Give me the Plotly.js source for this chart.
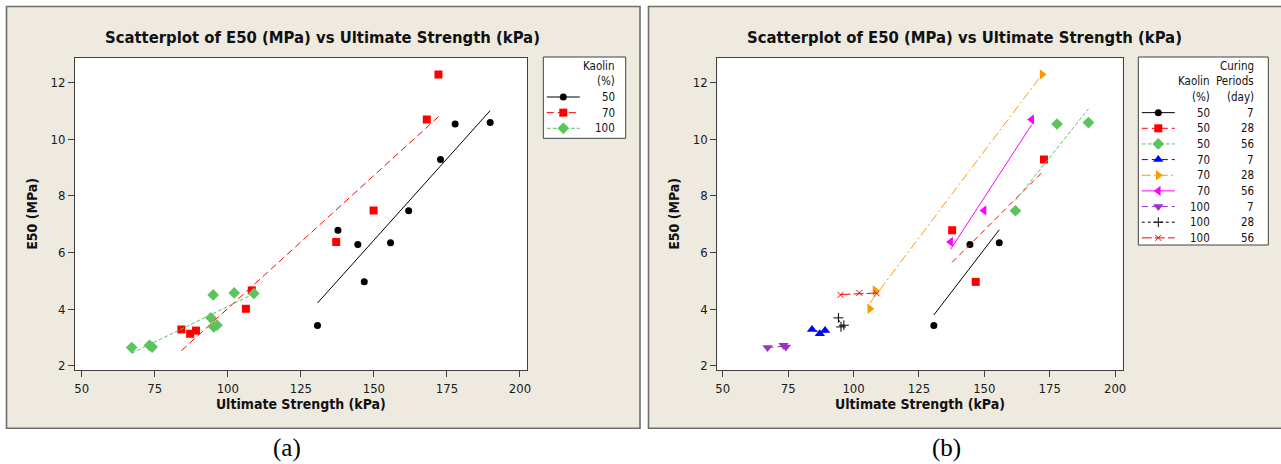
<!DOCTYPE html>
<html><head><meta charset="utf-8">
<script src="https://cdn.plot.ly/plotly-3.0.1.min.js"></script>
<style>html,body{margin:0;padding:0;background:#fff;overflow:hidden}#chart{width:1281px;height:464px}</style>
</head><body><div id="chart"></div>
<script>
// ---------------- DATA ----------------
const kaolinLevels = [50, 70, 100];          // Kaolin (%)
const curingLevels = [7, 28, 56];            // Curing periods (day)
const xTicks = [50, 75, 100, 125, 150, 175, 200];
const yTicks = [2, 4, 6, 8, 10, 12];

// Ultimate Strength (kPa) / E50 (MPa), one pair per Kaolin-Curing group
const us_50_7   = [130.7, 144.5, 155.7];
const e50_50_7  = [3.42, 6.28, 6.34];
const us_50_28  = [137.7, 146.7, 172.8];
const e50_50_28 = [6.78, 4.96, 9.28];
const us_50_56  = [161.9, 177.8, 189.8];
const e50_50_56 = [7.47, 10.53, 10.58];
const us_70_7   = [84.1, 87.1, 89.1];
const e50_70_7  = [3.28, 3.13, 3.24];
const us_70_28  = [106.2, 108.2, 172.1];
const e50_70_28 = [4.01, 4.66, 12.28];
const us_70_56  = [137.1, 149.9, 168.1];
const e50_70_56 = [6.37, 7.48, 10.69];
const us_100_7   = [67.1, 73.2, 74.1];
const e50_100_7  = [2.64, 2.72, 2.66];
const us_100_28  = [94.2, 95.2, 96.3];
const e50_100_28 = [3.69, 3.37, 3.43];
const us_100_56  = [95.0, 102.2, 108.9];
const e50_100_56 = [4.50, 4.57, 4.55];

const titleText = 'Scatterplot of E50 (MPa) vs Ultimate Strength (kPa)';
const xTitle = 'Ultimate Strength (kPa)';
const yTitle = 'E50 (MPa)';

// ---------------- BUILD ----------------
const groups = [
  {k:50, c:7,  x:us_50_7,  y:e50_50_7},
  {k:50, c:28, x:us_50_28, y:e50_50_28},
  {k:50, c:56, x:us_50_56, y:e50_50_56},
  {k:70, c:7,  x:us_70_7,  y:e50_70_7},
  {k:70, c:28, x:us_70_28, y:e50_70_28},
  {k:70, c:56, x:us_70_56, y:e50_70_56},
  {k:100, c:7,  x:us_100_7,  y:e50_100_7},
  {k:100, c:28, x:us_100_28, y:e50_100_28},
  {k:100, c:56, x:us_100_56, y:e50_100_56}
];

const GREEN = '#5CC45C';
const leftStyles = [
  {color:'#000000', symbol:'circle',  size:7, dash:'solid'},
  {color:'#FF0000', symbol:'square',  size:8, dash:'7px,4px'},
  {color:GREEN,     symbol:'diamond', size:9, dash:'4px,2px'}
];
const rightStyles = [
  {color:'#000000', symbol:'circle',  size:7, dash:'solid'},
  {color:'#FF0000', symbol:'square',  size:8, dash:'6px,4px'},
  {color:GREEN,     symbol:'diamond', size:9, dash:'4px,2px'},
  {color:'#0000FF', symbol:'triangle-up', size:9, dash:'6px,4px'},
  {color:'#FF9900', symbol:'triangle-right', size:9, dash:'9px,3px,2px,3px'},
  {color:'#FF00FF', symbol:'triangle-left', size:9, dash:'solid'},
  {color:'#9933CC', symbol:'triangle-down', size:9, dash:'6px,4px'},
  {color:'#000000', symbol:'cross-thin', size:7, dash:'3px,3px', thin:true},
  {color:'#FF0000', symbol:'x-thin', size:6, dash:'10px,3px', thin:true}
];

function fit(xs, ys){
  const n = xs.length;
  const mx = xs.reduce((a,b)=>a+b,0)/n, my = ys.reduce((a,b)=>a+b,0)/n;
  let sxy=0, sxx=0;
  for(let i=0;i<n;i++){ sxy += (xs[i]-mx)*(ys[i]-my); sxx += (xs[i]-mx)*(xs[i]-mx); }
  const b = sxy/sxx, a = my - b*mx;
  const x0 = Math.min(...xs), x1 = Math.max(...xs);
  return {x:[x0,x1], y:[a+b*x0, a+b*x1]};
}
function markerOf(s){
  return s.thin ? {symbol:s.symbol, size:s.size, color:s.color, line:{color:s.color, width:1}}
                : {symbol:s.symbol, size:s.size, color:s.color, line:{width:0}};
}

const traces = [];
// Panel (a): grouped by Kaolin
kaolinLevels.forEach((k,i)=>{
  const gs = groups.filter(g=>g.k===k);
  const xs = [].concat(...gs.map(g=>g.x)), ys = [].concat(...gs.map(g=>g.y));
  const s = leftStyles[i], f = fit(xs, ys);
  traces.push({type:'scatter', mode:'lines', x:f.x, y:f.y, xaxis:'x', yaxis:'y',
    line:{color:s.color, width:1, dash:s.dash}, showlegend:false, hoverinfo:'skip'});
  traces.push({type:'scatter', mode:'markers', x:xs, y:ys, xaxis:'x', yaxis:'y',
    marker:markerOf(s), showlegend:false, name:String(k)});
});
// Panel (b): grouped by Kaolin & Curing
groups.forEach((g,i)=>{
  const s = rightStyles[i], f = fit(g.x, g.y);
  traces.push({type:'scatter', mode:'lines', x:f.x, y:f.y, xaxis:'x2', yaxis:'y2',
    line:{color:s.color, width:1, dash:s.dash}, showlegend:false, hoverinfo:'skip'});
  traces.push({type:'scatter', mode:'markers', x:g.x, y:g.y, xaxis:'x2', yaxis:'y2',
    marker:markerOf(s), showlegend:false, name:g.k+' / '+g.c});
});

// ---------------- LAYOUT ----------------
const W = 1281, H = 464;
const FONT = 'Tahoma, "DejaVu Sans Condensed", "DejaVu Sans", sans-serif';
const px = v => v/W, py = v => 1 - v/H;
const PLOT_TOP = 57.7, PLOT_BOT = 370;
const AX = {color:'#404040'};
const ATF = {family:FONT, size:14, color:'#111', weight:'bold'};

function plotAxis(dom, range, ticks, title, anchor, standoff){
  return {
    domain: dom, range: range, anchor: anchor, autorange:false, fixedrange:true,
    tickmode:'array', tickvals: ticks, ticks:'outside', ticklen:6, tickwidth:1, tickcolor:AX.color,
    tickfont:{family:FONT, size:13, color:'#1a1a1a'},
    showline:true, mirror:true, linecolor:AX.color, linewidth:1,
    showgrid:false, zeroline:false, automargin:false,
    title:{text:title, standoff:standoff, font:ATF}
  };
}
function hiddenAxis(dom, range, anchor){
  return {domain:dom, range:range, anchor:anchor, visible:false, fixedrange:true,
          showgrid:false, zeroline:false, autorange:false};
}

// legend geometry (pixel units inside each legend box)
const ROW0 = 8.7, ROWSTEP = 15.65;
const LEG_L = {x0:543.3, x1:625.7, y0:57, y1:138.3};
const LEG_R = {x0:1138.3, x1:1268.3, y0:57, y1:245};

const layout = {
  width:W, height:H, autosize:false,
  margin:{l:0, r:0, t:0, b:0, pad:0},
  paper_bgcolor:'#ffffff', plot_bgcolor:'#ffffff',
  showlegend:false,
  font:{family:FONT, color:'#111'},
  xaxis:  plotAxis([px(75), px(526.7)], [47.7, 202.3], xTicks, xTitle, 'y', 3),
  yaxis:  plotAxis([py(PLOT_BOT), py(PLOT_TOP)], [1.85, 12.87], yTicks, yTitle, 'x', 9),
  xaxis2: plotAxis([px(717.3), px(1122.7)], [47.9, 202.9], xTicks, xTitle, 'y2', 3),
  yaxis2: plotAxis([py(PLOT_BOT), py(PLOT_TOP)], [1.85, 12.87], yTicks, yTitle, 'x2', 9),
  xaxis3: hiddenAxis([px(LEG_L.x0), px(LEG_L.x1)], [0, LEG_L.x1-LEG_L.x0], 'y3'),
  yaxis3: hiddenAxis([py(LEG_L.y1), py(LEG_L.y0)], [LEG_L.y1-LEG_L.y0, 0], 'x3'),
  xaxis4: hiddenAxis([px(LEG_R.x0), px(LEG_R.x1)], [0, LEG_R.x1-LEG_R.x0], 'y4'),
  yaxis4: hiddenAxis([py(LEG_R.y1), py(LEG_R.y0)], [LEG_R.y1-LEG_R.y0, 0], 'x4'),
  shapes:[], annotations:[]
};

const BEIGE = '#EEEAE0', BORDER = '#6E6E6E';
layout.shapes.push(
  {type:'rect', xref:'paper', yref:'paper', x0:px(6.5), x1:px(640), y0:py(428.3), y1:py(6.5),
   fillcolor:BEIGE, line:{color:BORDER, width:1.6}, layer:'below'},
  {type:'rect', xref:'paper', yref:'paper', x0:px(648.5), x1:px(1290), y0:py(428.3), y1:py(6.5),
   fillcolor:BEIGE, line:{color:BORDER, width:1.6}, layer:'below'},
  {type:'rect', xref:'x domain', yref:'y domain', x0:0, x1:1, y0:0, y1:1, fillcolor:'#fff', line:{width:0}, layer:'below'},
  {type:'rect', xref:'x2 domain', yref:'y2 domain', x0:0, x1:1, y0:0, y1:1, fillcolor:'#fff', line:{width:0}, layer:'below'},
  {type:'rect', xref:'x3 domain', yref:'y3 domain', x0:0, x1:1, y0:0, y1:1, fillcolor:'#fff', line:{color:'#404040', width:1}, layer:'below'},
  {type:'rect', xref:'x4 domain', yref:'y4 domain', x0:0, x1:1, y0:0, y1:1, fillcolor:'#fff', line:{color:'#404040', width:1}, layer:'below'}
);

// Titles
const TF = {family:FONT, size:16.5, color:'#111', weight:'bold'};
layout.annotations.push(
  {text:titleText, xref:'paper', yref:'paper', x:px(322), y:py(37), xanchor:'center', yanchor:'middle', showarrow:false, font:TF},
  {text:titleText, xref:'paper', yref:'paper', x:px(965), y:py(37), xanchor:'center', yanchor:'middle', showarrow:false, font:TF},
  {text:'(a)', xref:'paper', yref:'paper', x:px(287), y:py(448), xanchor:'center', yanchor:'middle', showarrow:false,
   font:{family:'"Liberation Serif", "DejaVu Serif", serif', size:25, color:'#000'}},
  {text:'(b)', xref:'paper', yref:'paper', x:px(946), y:py(448), xanchor:'center', yanchor:'middle', showarrow:false,
   font:{family:'"Liberation Serif", "DejaVu Serif", serif', size:25, color:'#000'}}
);

// Legends
const LF = {family:FONT, size:11.5, color:'#111'};
const COL_K = 73.4, COL_C = 117.4;
function legText(txt, xcol, row, xa, ya){
  layout.annotations.push({text:txt, xref:xa, yref:ya, x:xcol, y:ROW0+row*ROWSTEP,
    xanchor:'right', yanchor:'middle', showarrow:false, font:LF});
}
function legSample(s, row, xa, ya){
  const yy = ROW0+row*ROWSTEP;
  traces.push({type:'scatter', mode:'lines', x:[3.5, 36.5], y:[yy, yy], xaxis:xa, yaxis:ya,
    line:{color:s.color, width:1, dash:s.dash}, showlegend:false, hoverinfo:'skip'});
  traces.push({type:'scatter', mode:'markers', x:[20], y:[yy], xaxis:xa, yaxis:ya,
    marker:markerOf(s), showlegend:false, hoverinfo:'skip', cliponaxis:false});
}
legText('Kaolin', COL_K, 0, 'x3', 'y3');
legText('(%)', COL_K, 1, 'x3', 'y3');
kaolinLevels.forEach((k,i)=>{ legSample(leftStyles[i], 2+i, 'x3', 'y3'); legText(String(k), COL_K, 2+i, 'x3', 'y3'); });

legText('Curing', COL_C, 0, 'x4', 'y4');
legText('Kaolin', COL_K, 1, 'x4', 'y4');
legText('Periods', COL_C, 1, 'x4', 'y4');
legText('(%)', COL_K, 2, 'x4', 'y4');
legText('(day)', COL_C, 2, 'x4', 'y4');
groups.forEach((g,i)=>{
  legSample(rightStyles[i], 3+i, 'x4', 'y4');
  legText(String(g.k), COL_K, 3+i, 'x4', 'y4');
  legText(String(g.c), COL_C, 3+i, 'x4', 'y4');
});

Plotly.newPlot('chart', traces, layout, {staticPlot:true, displayModeBar:false});
</script></body></html>
